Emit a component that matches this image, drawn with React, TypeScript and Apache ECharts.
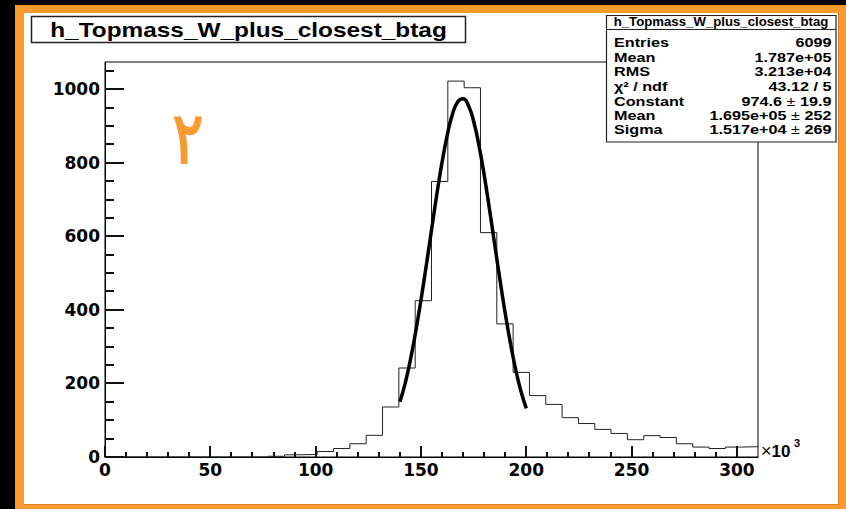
import { useEffect, useRef } from "react";
import * as echarts from "echarts";

// Histogram binning (x in units of 10^3)
const BIN_WIDTH = 7.75;
const X_MAX = 310;
const Y_MAX = 1074;

// Bin contents (40 bins from 0 to 310 ×10³)
const counts = [
  0, 0, 0, 0, 0, 0, 0, 0, 0, 0,
  2, 6, 7, 15, 23, 36, 59, 136, 242, 425,
  749, 1022, 1004, 610, 362, 230, 167, 143, 107, 91,
  75, 64, 47, 58, 53, 36, 27, 23, 27, 28,
];

// Gaussian fit curve (x ×10³, y counts)
const fitX = [140, 142.5, 145, 147.5, 150, 152.5, 155, 157.5, 160, 162.5, 165, 167.5, 170, 172.5, 175, 177.5, 180, 182.5, 185, 187.5, 190, 192.5, 195, 197.5, 200];
const fitY = [150, 200, 265, 341, 427, 520, 617, 713, 801, 876, 933, 966, 974, 956, 913, 848, 767, 675, 578, 482, 391, 309, 237, 178, 132];

// Tick positions
const xMajorTicks = [0, 50, 100, 150, 200, 250, 300];
const xMinorTicks = [10, 20, 30, 40, 60, 70, 80, 90, 110, 120, 130, 140, 160, 170, 180, 190, 210, 220, 230, 240, 260, 270, 280, 290];
const yMajorTicks = [0, 200, 400, 600, 800, 1000];
const yMinorTicks = [50, 100, 150, 250, 300, 350, 450, 500, 550, 650, 700, 750, 850, 900, 950, 1050];
const X_MAJOR = 50;
const Y_MAJOR = 200;

// Texts
const TITLE = "h_Topmass_W_plus_closest_btag";
const statLabels = ["Entries", "Mean", "RMS", "χ² / ndf", "Constant", "Mean", "Sigma"];
const statValues = ["6099", "1.787e+05", "3.213e+04", "43.12 / 5", "974.6|19.9", "1.695e+05|252", "1.517e+04|269"];
const statRowY = [42, 57, 71.5, 86, 101, 115.5, 129];

const ORANGE = "#f89a2f";
const SANS = "Liberation Sans, Arial, sans-serif";

export default function App() {
  const ref = useRef<HTMLDivElement>(null);

  useEffect(() => {
    if (!ref.current) return;
    const chart = echarts.init(ref.current, undefined, { renderer: "svg" });

    const histData: [number, number][] = counts.map((c, i) => [i * BIN_WIDTH, c]);
    histData.push([X_MAX, counts[counts.length - 1]]);
    const fitData = fitX.map((x, i) => [x, fitY[i]]);

    // tick data: [x, y, length in px]
    const xTickData: number[][] = [
      ...xMajorTicks.map((v) => [v, 0, 11]),
      ...xMinorTicks.map((v) => [v, 0, 5]),
    ];
    const yTickData: number[][] = [
      ...yMajorTicks.map((v) => [0, v, 19]),
      ...yMinorTicks.map((v) => [0, v, 9]),
    ];

    const statFont = { fontSize: 13.5, fontWeight: "bold", fontFamily: SANS, fill: "#000" };
    const statGraphics: any[] = [];
    statLabels.forEach((lab, i) => {
      statGraphics.push({
        type: "text",
        x: 614,
        y: statRowY[i],
        scaleX: 1.2,
        z: 101,
        style: { text: lab, ...statFont, align: "left", verticalAlign: "middle" },
      });
      const v = statValues[i];
      if (v.includes("|")) {
        const [a, b] = v.split("|");
        statGraphics.push({
          type: "text",
          x: 831.5,
          y: statRowY[i],
          scaleX: 1.2,
          z: 101,
          style: {
            text: `{b|${a}}{p| ± }{b|${b}}`,
            align: "right",
            verticalAlign: "middle",
            rich: {
              b: { fontSize: 13.5, fontWeight: "bold", fontFamily: SANS, color: "#000" },
              p: { fontSize: 13.5, fontWeight: "normal", fontFamily: SANS, color: "#000" },
            },
          },
        });
      } else {
        statGraphics.push({
          type: "text",
          x: 831.5,
          y: statRowY[i],
          scaleX: 1.2,
          z: 101,
          style: { text: v, ...statFont, align: "right", verticalAlign: "middle" },
        });
      }
    });

    const axisLabelStyle = {
      fontSize: 17,
      fontWeight: "bold",
      fontFamily: "DejaVu Sans, Liberation Sans, sans-serif",
      color: "#000",
      formatter: (v: number) => String(v),
      showMaxLabel: false,
    };

    chart.setOption({
      animation: false,
      backgroundColor: "transparent",
      grid: {
        left: 105,
        top: 62,
        right: 88,
        bottom: 52,
        show: true,
        borderColor: "#000",
        borderWidth: 1,
        backgroundColor: "transparent",
        outerBoundsMode: "none",
        containLabel: false,
      },
      xAxis: {
        type: "value",
        min: 0,
        max: X_MAX,
        interval: X_MAJOR,
        position: "bottom",
        axisLine: { show: true, onZero: false, lineStyle: { color: "#000", width: 1 } },
        axisTick: { show: false },
        axisLabel: { ...axisLabelStyle, margin: 4 },
        splitLine: { show: false },
      },
      yAxis: {
        type: "value",
        min: 0,
        max: Y_MAX,
        interval: Y_MAJOR,
        position: "left",
        axisLine: { show: true, onZero: false, lineStyle: { color: "#000", width: 1 } },
        axisTick: { show: false },
        axisLabel: { ...axisLabelStyle, margin: 5 },
        splitLine: { show: false },
      },
      series: [
        {
          type: "line",
          data: histData,
          step: "end",
          showSymbol: false,
          symbol: "none",
          lineStyle: { color: "#222", width: 1 },
          z: 3,
        },
        {
          type: "line",
          data: fitData,
          smooth: true,
          showSymbol: false,
          symbol: "none",
          lineStyle: { color: "#000", width: 3.5 },
          z: 4,
        },
        {
          type: "custom",
          coordinateSystem: "cartesian2d",
          data: xTickData,
          encode: { x: 0, y: 1 },
          silent: true,
          z: 5,
          renderItem: (_params: any, api: any) => {
            const p = api.coord([api.value(0), api.value(1)]);
            const len = api.value(2);
            const px = Math.round(p[0]);
            return {
              type: "rect",
              shape: { x: px - 1, y: p[1] - len, width: 2, height: len },
              style: { fill: "#111" },
            };
          },
        },
        {
          type: "custom",
          coordinateSystem: "cartesian2d",
          data: yTickData,
          encode: { x: 0, y: 1 },
          silent: true,
          z: 5,
          renderItem: (_params: any, api: any) => {
            const p = api.coord([api.value(0), api.value(1)]);
            const len = api.value(2);
            const py = Math.round(p[1]);
            return {
              type: "rect",
              shape: { x: p[0], y: py - 1, width: len, height: 2 },
              style: { fill: "#111" },
            };
          },
        },
      ],
      graphic: [
        // title box
        { type: "rect", z: 100, shape: { x: 31.5, y: 16.5, width: 434, height: 26 }, style: { fill: "#fff", stroke: "#222", lineWidth: 1.5 } },
        {
          type: "text",
          z: 101,
          x: 248.5,
          y: 30,
          scaleX: 1.22,
          style: {
            text: TITLE,
            fontSize: 20,
            fontWeight: "bold",
            fontFamily: SANS,
            fill: "#000",
            align: "center",
            verticalAlign: "middle",
          },
        },
        // stats box
        { type: "rect", z: 100, shape: { x: 606.5, y: 15.5, width: 229.5, height: 126.5 }, style: { fill: "#fff", stroke: "#222", lineWidth: 1.2 } },
        { type: "rect", z: 101, shape: { x: 606.5, y: 29, width: 229.5, height: 1 }, style: { fill: "#222" } },
        {
          type: "text",
          z: 101,
          x: 721,
          y: 22.5,
          scaleX: 1.1,
          style: {
            text: TITLE,
            fontSize: 12,
            fontWeight: "bold",
            fontFamily: SANS,
            fill: "#000",
            align: "center",
            verticalAlign: "middle",
          },
        },
        ...statGraphics,
        // ×10^3
        {
          type: "text",
          z: 101,
          x: 761,
          y: 451,
          style: {
            text: "{x|×}{n|10}",
            align: "left",
            verticalAlign: "middle",
            rich: {
              x: { fontSize: 18, fontWeight: "normal", fontFamily: SANS, color: "#000" },
              n: { fontSize: 17, fontWeight: "bold", fontFamily: SANS, color: "#000" },
            },
          },
        },
        {
          type: "text",
          z: 101,
          x: 794,
          y: 443,
          style: {
            text: "3",
            fontSize: 11,
            fontWeight: "bold",
            fontFamily: SANS,
            fill: "#000",
            align: "left",
            verticalAlign: "middle",
          },
        },
        // orange glyph
        {
          type: "text",
          z: 101,
          x: 188,
          y: 138,
          scaleX: 0.8,
          style: {
            text: "٢",
            fontSize: 72,
            fontWeight: "normal",
            fontFamily: "DejaVu Sans, Noto Sans, sans-serif",
            fill: ORANGE,
            stroke: ORANGE,
            lineWidth: 2,
            align: "center",
            verticalAlign: "middle",
          },
        },
      ],
    });

    return () => chart.dispose();
  }, []);

  return (
    <div style={{ position: "fixed", left: 0, top: 0, width: 846, height: 509, background: "#000" }}>
      <div style={{ position: "absolute", left: 15, top: 5, width: 831, height: 504, background: ORANGE }} />
      <div
        style={{
          position: "absolute",
          left: 24,
          top: 13,
          width: 815,
          height: 492,
          background: "#fff",
          boxShadow: "inset -1px -1px 0 #d9822b",
        }}
      />
      <div ref={ref} style={{ position: "absolute", left: 0, top: 0, width: 846, height: 509 }} />
    </div>
  );
}
